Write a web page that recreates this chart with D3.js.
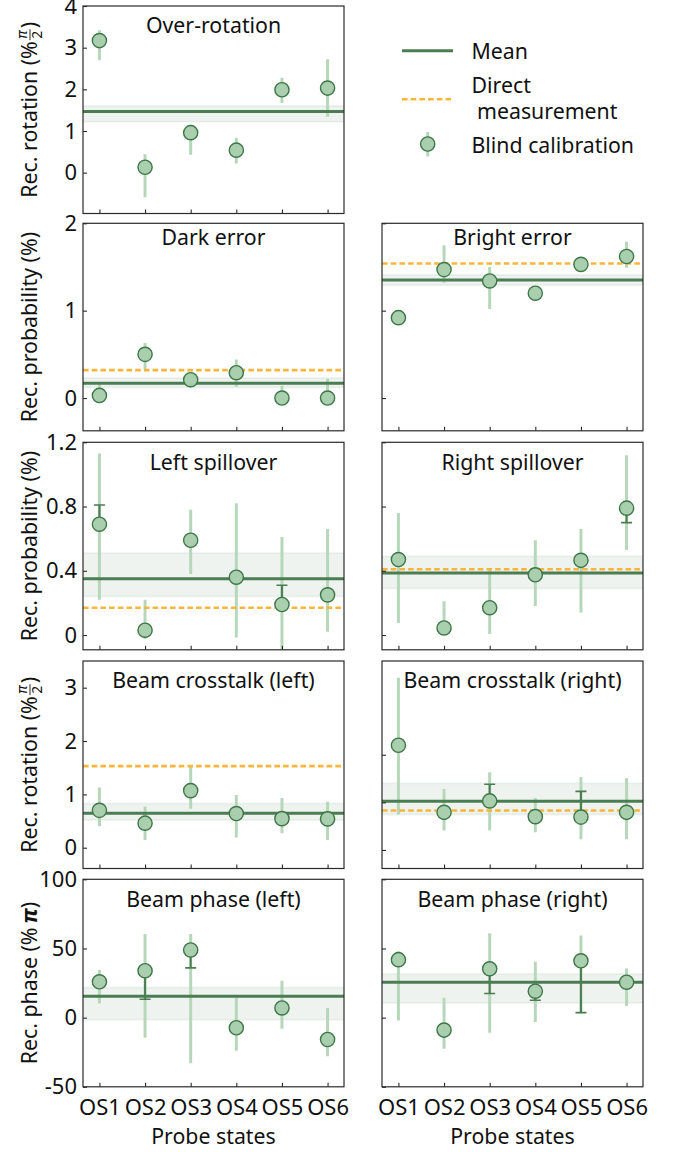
<!DOCTYPE html>
<html><head><meta charset="utf-8">
<script src="https://cdn.jsdelivr.net/npm/d3@7"></script>
<style>
body{margin:0;background:#fff;}
text{font-family:"Noto Sans",sans-serif;fill:#111;}
</style></head><body>
<svg id="c" width="678" height="1152"></svg>
<script>
// ---------- data ----------
const states = ["OS1","OS2","OS3","OS4","OS5","OS6"];

// Over-rotation (% pi/2)
const overRotVal = [3.17, 0.13, 0.96, 0.54, 1.99, 2.03];
const overRotLo  = [2.70, -0.59, 0.43, 0.22, 1.67, 1.34];
const overRotHi  = [3.42, 0.44, 1.15, 0.84, 2.28, 2.72];
const overRotMean = [1.47, 1.22, 1.60]; // mean, band low, band high

// Dark error (%)
const darkVal = [0.03, 0.50, 0.21, 0.29, 0.00, 0.00];
const darkLo  = [-0.03, 0.33, 0.12, 0.13, -0.05, -0.02];
const darkHi  = [0.18, 0.63, 0.30, 0.44, 0.14, 0.22];
const darkMean = [0.17, 0.12, 0.23];
const darkDirect = 0.32;

// Bright error (%)
const brightVal = [0.92, 1.47, 1.34, 1.20, 1.53, 1.62];
const brightLo  = [0.88, 1.32, 1.02, 1.15, 1.48, 1.49];
const brightHi  = [0.96, 1.75, 1.50, 1.25, 1.58, 1.79];
const brightMean = [1.35, 1.29, 1.41];
const brightDirect = 1.54;

// Left spillover (%)
const lspVal  = [0.69, 0.03, 0.59, 0.36, 0.19, 0.25];
const lspLo   = [0.22, -0.025, 0.38, -0.015, -0.12, 0.02];
const lspHi   = [1.13, 0.22, 0.78, 0.82, 0.61, 0.66];
const lspDark = [0.81, null, null, null, 0.31, null];
const lspMean = [0.35, 0.24, 0.51];
const lspDirect = 0.17;

// Right spillover (%)
const rspVal  = [0.47, 0.044, 0.17, 0.375, 0.465, 0.79];
const rspLo   = [0.075, 0.0, 0.006, 0.18, 0.14, 0.53];
const rspHi   = [0.76, 0.21, 0.41, 0.59, 0.66, 1.12];
const rspDark = [null, null, null, null, null, 0.70];
const rspMean = [0.386, 0.29, 0.49];
const rspDirect = 0.41;

// Beam crosstalk left (% pi/2)
const bclVal = [0.70, 0.46, 1.07, 0.64, 0.545, 0.54];
const bclLo  = [0.40, 0.145, 0.73, 0.19, 0.27, 0.145];
const bclHi  = [1.13, 0.77, 1.54, 0.99, 0.93, 0.86];
const bclMean = [0.645, 0.52, 0.83];
const bclDirect = 1.53;

// Beam crosstalk right (% pi/2)
const bcrVal  = [2.20, 0.79, 1.03, 0.70, 0.69, 0.79];
const bcrLo   = [0.745, 0.41, 0.41, 0.37, 0.225, 0.225];
const bcrHi   = [3.62, 1.28, 1.63, 1.09, 1.53, 1.51];
const bcrDark = [null, null, 1.38, null, 1.23, null];
const bcrMean = [1.025, 0.745, 1.40];
const bcrDirect = 0.83;

// Beam phase left (% pi)
const bplVal  = [25.9, 33.9, 48.9, -7.3, 7.0, -15.8];
const bplLo   = [10.2, -14.5, -33, -24, -8, -27.9];
const bplHi   = [34.4, 60.5, 60.5, 14.5, 26.6, 7];
const bplDark = [null, 13.3, 36, null, null, null];
const bplMean = [15.5, -1.5, 21.8];

// Beam phase right (% pi)
const bprVal  = [41.9, -9, 35.3, 19.1, 41.1, 25.6];
const bprLo   = [-2, -22.5, -11, -3.2, 3, 8.4];
const bprHi   = [48, 14.3, 61, 40.4, 59.3, 35.6];
const bprDark = [null, null, 17.4, 12.6, 3.6, null];
const bprMean = [25.6, 10.6, 31.5];

// axis ticks
const ticksRot = [0,1,2,3,4];
const ticksProb = [0,1,2];
const ticksSpill = [0,0.4,0.8,1.2];
const ticksCrossL = [0,1,2,3];
const ticksCrossR = [0,1,2];
const ticksPhase = [-50,0,50,100];

// ---------- style / layout ----------
const C = {
  mean:"#4a7d52", fill:"#aacfae", stroke:"#3d7747", light:"#b7d7ba",
  band:"#4a7d52", orange:"#fbb53c", frame:"#2a2a2a"
};
const FS = 21.3, TFS = 22;
const colX = [83, 382], W = 261;
const rowTop = [6, 223.3, 442.3, 661, 879.3], H = 207.5;
const titleBase = [33.3, 245, 469.5, 688.3, 906.5];
const intFmt = d => String(d).replace("\u2212","-");
const spillFmt = d => d === 0 ? "0" : d.toFixed(1);

const svg = d3.select("#c");

const panels = [
  {row:0,col:0,title:"Over-rotation",val:overRotVal,lo:overRotLo,hi:overRotHi,mean:overRotMean,direct:null,dark:null,domain:[-0.98,4],ticks:ticksRot,fmt:intFmt},
  {row:1,col:0,title:"Dark error",val:darkVal,lo:darkLo,hi:darkHi,mean:darkMean,direct:darkDirect,dark:null,domain:[-0.375,2],ticks:ticksProb,fmt:intFmt},
  {row:1,col:1,title:"Bright error",val:brightVal,lo:brightLo,hi:brightHi,mean:brightMean,direct:brightDirect,dark:null,domain:[-0.375,2],ticks:ticksProb,fmt:intFmt},
  {row:2,col:0,title:"Left spillover",val:lspVal,lo:lspLo,hi:lspHi,mean:lspMean,direct:lspDirect,dark:lspDark,domain:[-0.092,1.2],ticks:ticksSpill,fmt:spillFmt},
  {row:2,col:1,title:"Right spillover",val:rspVal,lo:rspLo,hi:rspHi,mean:rspMean,direct:rspDirect,dark:rspDark,domain:[-0.092,1.2],ticks:ticksSpill,fmt:spillFmt},
  {row:3,col:0,title:"Beam crosstalk (left)",val:bclVal,lo:bclLo,hi:bclHi,mean:bclMean,direct:bclDirect,dark:null,domain:[-0.39,3.5],ticks:ticksCrossL,fmt:intFmt},
  {row:3,col:1,title:"Beam crosstalk (right)",val:bcrVal,lo:bcrLo,hi:bcrHi,mean:bcrMean,direct:bcrDirect,dark:bcrDark,domain:[-0.39,3.97],ticks:ticksCrossR,fmt:intFmt},
  {row:4,col:0,title:"Beam phase (left)",val:bplVal,lo:bplLo,hi:bplHi,mean:bplMean,direct:null,dark:bplDark,domain:[-50,100],ticks:ticksPhase,fmt:intFmt},
  {row:4,col:1,title:"Beam phase (right)",val:bprVal,lo:bprLo,hi:bprHi,mean:bprMean,direct:null,dark:bprDark,domain:[-50,100],ticks:ticksPhase,fmt:intFmt}
];

panels.forEach((p,i)=>{
  const x0 = colX[p.col], y0 = rowTop[p.row];
  const x = d3.scalePoint().domain(states).range([x0, x0+W]).padding(0.36);
  const y = d3.scaleLinear().domain(p.domain).range([y0+H, y0]);
  const g = svg.append("g");
  const cid = "clip"+i;
  svg.append("clipPath").attr("id",cid).append("rect").attr("x",x0).attr("y",y0).attr("width",W).attr("height",H);
  const inner = g.append("g").attr("clip-path",`url(#${cid})`);

  // band
  inner.append("rect").attr("x",x0).attr("width",W)
    .attr("y",y(p.mean[2])).attr("height",y(p.mean[1])-y(p.mean[2]))
    .attr("fill",C.band).attr("fill-opacity",0.09);
  [p.mean[1],p.mean[2]].forEach(v=>inner.append("line").attr("x1",x0).attr("x2",x0+W)
    .attr("y1",y(v)).attr("y2",y(v)).attr("stroke",C.band).attr("stroke-opacity",0.07).attr("stroke-width",2));

  // light error bars
  inner.selectAll(".eb").data(states).join("line")
    .attr("x1",d=>x(d)).attr("x2",d=>x(d))
    .attr("y1",(d,j)=>y(p.lo[j])).attr("y2",(d,j)=>y(p.hi[j]))
    .attr("stroke",C.light).attr("stroke-width",3);

  // mean line
  inner.append("line").attr("x1",x0).attr("x2",x0+W).attr("y1",y(p.mean[0])).attr("y2",y(p.mean[0]))
    .attr("stroke",C.mean).attr("stroke-width",3);

  // direct measurement
  if(p.direct!==null){
    inner.append("line").attr("x1",x0).attr("x2",x0+W).attr("y1",y(p.direct)).attr("y2",y(p.direct))
      .attr("stroke",C.orange).attr("stroke-width",2.6).attr("stroke-dasharray","5.6,3.1");
  }

  // dark error bars
  if(p.dark){
    p.dark.forEach((v,j)=>{
      if(v===null) return;
      const cx = x(states[j]);
      inner.append("line").attr("x1",cx).attr("x2",cx).attr("y1",y(p.val[j])).attr("y2",y(v))
        .attr("stroke",C.mean).attr("stroke-width",2);
      inner.append("line").attr("x1",cx-5.5).attr("x2",cx+5.5).attr("y1",y(v)).attr("y2",y(v))
        .attr("stroke",C.mean).attr("stroke-width",1.6);
    });
  }

  // circles
  g.selectAll(".pt").data(states).join("circle")
    .attr("cx",d=>x(d)).attr("cy",(d,j)=>y(p.val[j])).attr("r",7.1)
    .attr("fill",C.fill).attr("stroke",C.stroke).attr("stroke-width",1.4);

  // axes
  const ya = d3.axisLeft(y).tickValues(p.ticks).tickSize(-4).tickPadding(6)
    .tickFormat(p.col===0 ? p.fmt : "");
  const yg = g.append("g").attr("transform",`translate(${x0},0)`).call(ya);
  yg.select(".domain").remove();
  yg.selectAll("line").attr("stroke",C.frame).attr("stroke-width",1.1);
  yg.selectAll("text").attr("font-size",TFS).attr("font-family","Noto Sans").attr("fill","#111");

  const xa = d3.axisBottom(x).tickSize(-4).tickPadding(12.5).tickFormat(p.row===4 ? (d=>d) : "");
  const xg = g.append("g").attr("transform",`translate(0,${y0+H})`).call(xa);
  xg.select(".domain").remove();
  xg.selectAll("line").attr("stroke",C.frame).attr("stroke-width",1.1);
  xg.selectAll("text").attr("font-size",TFS).attr("font-family","Noto Sans").attr("fill","#111");

  // frame
  g.append("rect").attr("x",x0).attr("y",y0).attr("width",W).attr("height",H)
    .attr("fill","none").attr("stroke",C.frame).attr("stroke-width",1.2);

  // title
  g.append("text").attr("x",x0+W/2).attr("y",titleBase[p.row]).attr("text-anchor","middle")
    .attr("font-size",FS).text(p.title);

  if(p.row===4){
    g.append("text").attr("x",x0+W/2).attr("y",1144).attr("text-anchor","middle")
      .attr("font-size",FS).text("Probe states");
  }
});

// ---------- y labels ----------
function yLabel(cy, pre, kind){
  const gg = svg.append("g").attr("transform",`translate(36.5,${cy}) rotate(-90)`);
  const parts = gg.append("g");
  const t1 = parts.append("text").attr("font-size",FS).attr("x",0).attr("y",0).text(pre);
  let w = t1.node().getComputedTextLength();
  if(kind==="frac"){
    const fx = w + 1;
    const num = parts.append("text").attr("font-size",14).attr("font-style","italic")
      .attr("font-family","DejaVu Sans").attr("text-anchor","middle").text("π");
    const den = parts.append("text").attr("font-size",14).attr("text-anchor","middle").text("2");
    const fw = 11;
    num.attr("x",fx+fw/2).attr("y",-9.5);
    den.attr("x",fx+fw/2).attr("y",5.5);
    parts.append("line").attr("x1",fx).attr("x2",fx+fw).attr("y1",-6.5).attr("y2",-6.5)
      .attr("stroke","#111").attr("stroke-width",0.9);
    w = fx + fw + 1;
  } else if(kind==="pi"){
    const pi = parts.append("text").attr("font-size",FS).attr("font-weight","bold").attr("font-style","italic")
      .attr("font-family","DejaVu Sans").attr("x",w+4).attr("y",0).text("π");
    w = w + 4 + pi.node().getComputedTextLength();
  }
  if(kind){
    const t2 = parts.append("text").attr("font-size",FS).attr("x",w).attr("y",0).text(")");
    w += t2.node().getComputedTextLength();
  }
  parts.attr("transform",`translate(${-w/2},0)`);
}
yLabel(rowTop[0]+H/2, "Rec. rotation (%", "frac");
yLabel(rowTop[1]+H/2, "Rec. probability (%)", null);
yLabel(rowTop[2]+H/2, "Rec. probability (%)", null);
yLabel(rowTop[3]+H/2, "Rec. rotation (%", "frac");
yLabel(rowTop[4]+H/2, "Rec. phase (%", "pi");

// ---------- legend ----------
const lg = svg.append("g");
lg.append("line").attr("x1",402).attr("x2",453).attr("y1",50.7).attr("y2",50.7)
  .attr("stroke",C.mean).attr("stroke-width",3);
lg.append("text").attr("x",471.5).attr("y",59).attr("font-size",FS).text("Mean");
lg.append("line").attr("x1",402).attr("x2",453).attr("y1",99.3).attr("y2",99.3)
  .attr("stroke",C.orange).attr("stroke-width",2.6).attr("stroke-dasharray","5.6,3.1");
lg.append("text").attr("x",471.5).attr("y",93).attr("font-size",FS).text("Direct");
lg.append("text").attr("x",471.5).attr("y",118.5).attr("font-size",FS).attr("xml:space","preserve").text(" measurement");
lg.append("line").attr("x1",427.7).attr("x2",427.7).attr("y1",132).attr("y2",156.5)
  .attr("stroke",C.light).attr("stroke-width",3);
lg.append("circle").attr("cx",427.7).attr("cy",144).attr("r",7.1)
  .attr("fill",C.fill).attr("stroke",C.stroke).attr("stroke-width",1.4);
lg.append("text").attr("x",471.5).attr("y",153).attr("font-size",FS).text("Blind calibration");
</script>
</body></html>
